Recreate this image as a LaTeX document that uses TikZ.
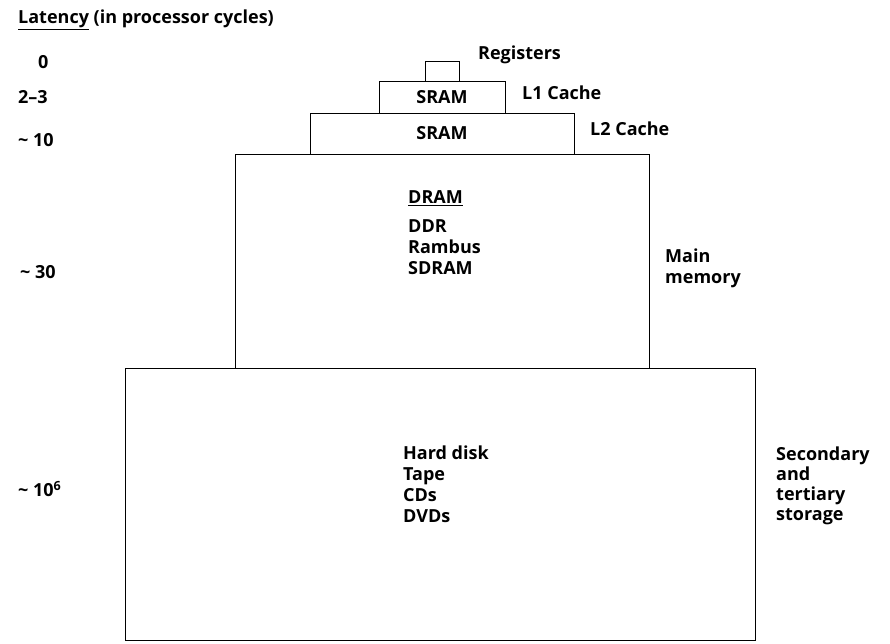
\documentclass[tikz,border=0pt]{standalone}
\usepackage{fontspec}
\setmainfont{Open Sans}
\usetikzlibrary{positioning}

\begin{document}
\begin{tikzpicture}[x=1pt, y=-1pt,
  lvl/.style={rectangle, draw, line width=0.8pt, outer sep=0pt, inner sep=0pt, font=\fontsize{18}{21}\selectfont\bfseries},
  lbl/.style={anchor=west, inner sep=0pt, align=left, font=\fontsize{18}{21}\selectfont\bfseries},
  lat/.style={anchor=west, inner sep=0pt, font=\fontsize{18}{21}\selectfont\bfseries}
]
\useasboundingbox (0,0) rectangle (890,644);
% memory levels, stacked from the bottom up
\node[lvl, minimum width=630pt, minimum height=272pt] (storage) at (440,504) {};
\node[lvl, minimum width=414pt, minimum height=214pt, above=0pt of storage, xshift=2pt] (mainmem) {};
\node[lvl, minimum width=264pt, minimum height=41pt, above=0pt of mainmem] (ltwo) {SRAM};
\node[lvl, minimum width=126pt, minimum height=32pt, above=0pt of ltwo] (lone) {SRAM};
\node[lvl, minimum width=34pt, minimum height=20pt, above=0pt of lone] (regs) {};
% contents
\node[lbl] (dram) at (408,198) {\underline{DRAM}};
\node[lbl] (dramtypes) at (408,247) {DDR\\Rambus\\SDRAM};
\node[lbl] (media) at (403,484) {Hard disk\\Tape\\CDs\\DVDs};
% level names
\node[lbl] (regsname) at (478,55) {Registers};
\node[lbl] (lonename) at (522,93) {L1 Cache};
\node[lbl] (ltwoname) at (590,129) {L2 Cache};
\node[lbl] (mainname) at (665,268) {Main\\memory};
\node[lbl, font=\fontsize{18}{20}\selectfont\bfseries] (storname) at (776,486) {Secondary\\and\\tertiary\\storage};
% latencies
\node[lat] (title) at (18,20) {\underline{Latency} (in processor cycles)};
\node[lat] (latregs) at (38,62) {0};
\node[lat] (latlone) at (18,97) {2--3};
\node[lat] (latltwo) at (18,140) {\textasciitilde\ 10};
\node[lat] (latmain) at (20,272) {\textasciitilde\ 30};
\node[lat] (latstor) at (18,489) {\textasciitilde\ 10\textsuperscript{6}};
\end{tikzpicture}
\end{document}
